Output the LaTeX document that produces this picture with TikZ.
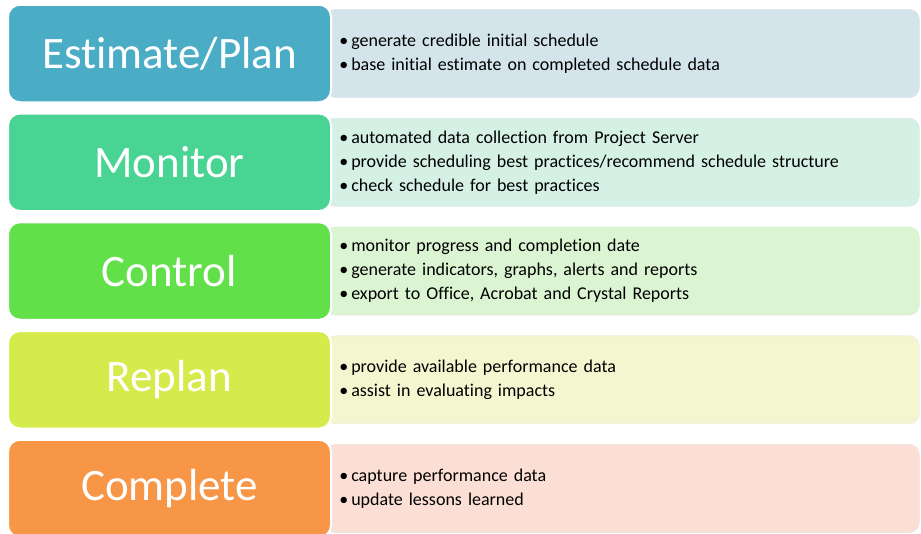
\documentclass[tikz,border=0pt]{standalone}
\usepackage{fontspec}
\setmainfont[Ligatures={NoCommon}]{Carlito}
\usetikzlibrary{positioning}

\definecolor{estc}{HTML}{4BACC6}
\definecolor{monc}{HTML}{4AD494}
\definecolor{conc}{HTML}{62E04A}
\definecolor{repc}{HTML}{D4EB4B}
\definecolor{comc}{HTML}{F79646}
\definecolor{estl}{HTML}{D3E4EB}
\definecolor{monl}{HTML}{D5F0E4}
\definecolor{conl}{HTML}{DBF4D2}
\definecolor{repl}{HTML}{F4F6D0}
\definecolor{coml}{HTML}{FBDFD4}

\begin{document}
\begin{tikzpicture}[x=1pt, y=-1pt,
    phase/.style={rounded corners=12pt, draw=white, line width=2pt, text=white,
        minimum width=323pt, minimum height=97.5pt, inner sep=0pt,
        font=\fontsize{45}{50}\selectfont},
    info/.style={rounded corners=10pt, draw=#1!85!gray!60, line width=0.6pt, fill=#1,
        anchor=west, minimum height=88pt, text width=566pt, inner xsep=14pt,
        align=left, font=\fontsize{18}{24}\selectfont}]
        \clip (0,0) rectangle (921,533);
        \fill[white] (0,0) rectangle (921,533);
        % descriptions behind the phase boxes
        \node[info=estl] (estinfo) at (325,53.5) {•\,generate credible initial schedule\\•\,base initial estimate on completed schedule data};
        \node[info=monl] (moninfo) at (325,162.25) {•\,automated data collection from Project Server\\•\,provide scheduling best practices/recommend schedule structure\\•\,check schedule for best practices};
        \node[info=conl] (coninfo) at (325,271) {•\,monitor progress and completion date\\•\,generate indicators, graphs, alerts and reports\\•\,export to Office, Acrobat and Crystal Reports};
        \node[info=repl] (repinfo) at (325,379.75) {•\,provide available performance data\\•\,assist in evaluating impacts};
        \node[info=coml] (cominfo) at (325,488.5) {•\,capture performance data\\•\,update lessons learned};
        % phases
        \node[phase, fill=estc] (est) at (169.5,53.5) {Estimate/Plan};
        \node[phase, fill=monc] (mon) at (169.5,162.25) {Monitor};
        \node[phase, fill=conc] (con) at (169.5,271) {Control};
        \node[phase, fill=repc] (rep) at (169.5,379.75) {Replan};
        \node[phase, fill=comc] (com) at (169.5,488.5) {Complete};
\end{tikzpicture}
\end{document}
